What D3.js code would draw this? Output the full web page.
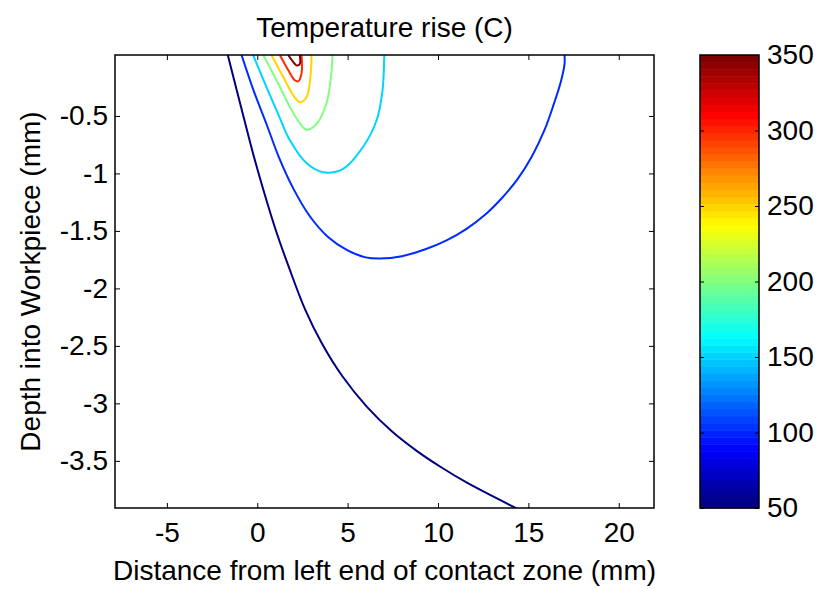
<!DOCTYPE html>
<html>
<head>
<meta charset="utf-8">
<script src="https://cdn.jsdelivr.net/npm/d3@7"></script>
<style>
  body { margin: 0; background: #fff; }
  text { font-family: Arial, "Liberation Sans", sans-serif; fill: #000; }
  .axis line { stroke: #000; stroke-width: 1; }
  .axis path { display: none; }
</style>
</head>
<body>
<div class="chart"></div>
<script>
const width = 819;
const height = 589;
const plot = { left: 115, right: 654, top: 55, bottom: 508 };
const bar = { left: 700, right: 759 };
const fontSize = 28;

// axis ranges and ticks
const xDomain = [-7.87, 21.95];
const yDomain = [-3.91, 0.03];
const xTicks = [-5, 0, 5, 10, 15, 20];
const yTicks = [-3.5, -3, -2.5, -2, -1.5, -1, -0.5];
const colorDomain = [50, 350];
const colorTicks = [50, 100, 150, 200, 250, 300, 350];

// contour levels (temperature rise, C) and the lines
const levels = [50, 100, 150, 200, 250, 300, 350];
const line50 = [[-1.63, 0.03], [-0.9, -0.42], [-0.21, -0.84], [0.39, -1.17], [1.05, -1.505], [1.76, -1.82],
  [2.64, -2.18], [3.58, -2.48], [4.69, -2.76], [6.07, -3.03], [7.46, -3.245], [8.84, -3.415],
  [10.22, -3.56], [11.6, -3.69], [12.99, -3.805], [14.4, -3.917], [15.09, -3.97]];
const line100 = [[-0.87, 0.03], [-0.2, -0.28], [0.51, -0.57], [1.2, -0.86], [1.99, -1.13], [2.9, -1.37],
  [3.9, -1.55], [5.0, -1.67], [6.0, -1.73], [6.78, -1.74], [8.0, -1.72], [9.3, -1.66], [10.5, -1.58],
  [11.6, -1.48], [12.6, -1.36], [13.5, -1.22], [14.4, -1.05], [15.2, -0.85], [15.9, -0.62],
  [16.4, -0.4], [16.8, -0.2], [17.0, -0.05], [17.0, 0.03]];
const line150 = [[-0.23, 0.03], [0.51, -0.25], [1.2, -0.5], [1.8, -0.71], [2.72, -0.91], [3.64, -0.99],
  [4.75, -0.96], [5.85, -0.77], [6.6, -0.54], [6.93, -0.28], [7.02, -0.02], [7.03, 0.03]];
const line200 = [[0.33, 0.03], [1.07, -0.19], [1.8, -0.42], [2.3, -0.55], [2.72, -0.62], [3.28, -0.57],
  [3.83, -0.39], [4.1, -0.13], [4.16, 0.03]];
const line250 = [[0.79, 0.03], [1.43, -0.16], [2.08, -0.34], [2.35, -0.38], [2.72, -0.34], [2.96, -0.13],
  [3.0, 0.03]];
const line300 = [[1.25, 0.03], [1.71, -0.1], [2.08, -0.19], [2.26, -0.2], [2.45, -0.13], [2.45, 0.03]];
const line350 = [[1.71, 0.03], [1.99, -0.03], [2.17, -0.06], [2.35, -0.05], [2.35, 0.03]];
const contourLines = [line50, line100, line150, line200, line250, line300, line350];

// MATLAB style jet colormap
function jet(t) {
  const c = v => Math.max(0, Math.min(1, v));
  const r = c(1.5 - Math.abs(4 * t - 3));
  const g = c(1.5 - Math.abs(4 * t - 2));
  const b = c(1.5 - Math.abs(4 * t - 1));
  return d3.rgb(r * 255, g * 255, b * 255).toString();
}

const svg = d3.select('.chart').append('svg')
  .attr('width', width)
  .attr('height', height)
  .attr('viewBox', `0 0 ${width} ${height}`);

const x = d3.scaleLinear().domain(xDomain).range([plot.left, plot.right]);
const y = d3.scaleLinear().domain(yDomain).range([plot.bottom, plot.top]);
const c = d3.scaleLinear().domain(colorDomain).range([plot.bottom, plot.top]);
const colorOf = v => jet((v - colorDomain[0]) / (colorDomain[1] - colorDomain[0]));

/*   contour lines   */
svg.append('clipPath').attr('id', 'plotClip')
  .append('rect')
  .attr('x', plot.left).attr('y', plot.top)
  .attr('width', plot.right - plot.left).attr('height', plot.bottom - plot.top);

const line = d3.line().x(d => x(d[0])).y(d => y(d[1])).curve(d3.curveCatmullRom.alpha(0.5));
svg.append('g').attr('clip-path', 'url(#plotClip)')
  .selectAll('path')
  .data(contourLines)
  .enter()
  .append('path')
  .attr('d', line)
  .attr('fill', 'none')
  .attr('stroke', (d, i) => colorOf(levels[i]))
  .attr('stroke-width', 2);

/*   axes with inward ticks   */
const fmt = d => String(d);
svg.append('g').attr('class', 'axis')
  .attr('transform', `translate(0, ${plot.bottom})`)
  .call(d3.axisBottom(x).tickValues(xTicks).tickSize(-5).tickPadding(14).tickFormat(fmt));
svg.append('g').attr('class', 'axis')
  .attr('transform', `translate(0, ${plot.top})`)
  .call(d3.axisTop(x).tickValues(xTicks).tickSize(-5).tickFormat(''));
svg.append('g').attr('class', 'axis')
  .attr('transform', `translate(${plot.left}, 0)`)
  .call(d3.axisLeft(y).tickValues(yTicks).tickSize(-5).tickPadding(7).tickFormat(fmt));
svg.append('g').attr('class', 'axis')
  .attr('transform', `translate(${plot.right}, 0)`)
  .call(d3.axisRight(y).tickValues(yTicks).tickSize(-5).tickFormat(''));
svg.selectAll('.axis text').style('font-size', fontSize + 'px');

svg.append('rect')
  .attr('x', plot.left).attr('y', plot.top)
  .attr('width', plot.right - plot.left).attr('height', plot.bottom - plot.top)
  .attr('fill', 'none').attr('stroke', '#000').attr('stroke-width', 1.5);

/*   colorbar   */
const nBands = 64;
const bands = d3.range(nBands);
const step = (colorDomain[1] - colorDomain[0]) / nBands;
svg.append('g').selectAll('rect')
  .data(bands)
  .enter()
  .append('rect')
  .attr('x', bar.left)
  .attr('width', bar.right - bar.left)
  .attr('y', i => c(colorDomain[0] + (i + 1) * step))
  .attr('height', i => c(colorDomain[0] + i * step) - c(colorDomain[0] + (i + 1) * step) + 0.5)
  .attr('fill', i => jet(i / (nBands - 1)));

svg.append('g').attr('class', 'axis')
  .attr('transform', `translate(${bar.right}, 0)`)
  .call(d3.axisRight(c).tickValues(colorTicks).tickSize(-4).tickPadding(8).tickFormat(fmt))
  .selectAll('text').style('font-size', fontSize + 'px');
svg.append('g').attr('class', 'axis')
  .attr('transform', `translate(${bar.left}, 0)`)
  .call(d3.axisLeft(c).tickValues(colorTicks).tickSize(-4).tickFormat(''));
svg.append('rect')
  .attr('x', bar.left).attr('y', plot.top)
  .attr('width', bar.right - bar.left).attr('height', plot.bottom - plot.top)
  .attr('fill', 'none').attr('stroke', '#000').attr('stroke-width', 1.5);

/*   titles   */
svg.append('text')
  .attr('x', (plot.left + plot.right) / 2).attr('y', 37)
  .attr('text-anchor', 'middle')
  .style('font-size', fontSize + 'px')
  .text('Temperature rise (C)');
svg.append('text')
  .attr('x', (plot.left + plot.right) / 2).attr('y', 580)
  .attr('text-anchor', 'middle')
  .style('font-size', fontSize + 'px')
  .text('Distance from left end of contact zone (mm)');
svg.append('text')
  .attr('transform', `translate(40, ${(plot.top + plot.bottom) / 2}) rotate(-90)`)
  .attr('text-anchor', 'middle')
  .style('font-size', fontSize + 'px')
  .text('Depth into Workpiece (mm)');
</script>
</body>
</html>
